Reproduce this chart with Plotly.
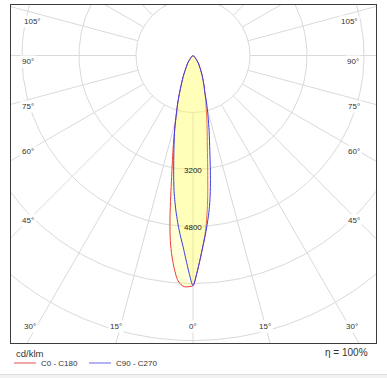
import numpy as np
import plotly.graph_objects as go

# ---------------- data (cd/klm) ----------------
gamma = [0, 1, 2, 3, 4, 5, 6, 7, 8, 9, 10, 12, 14, 16, 18, 20, 25, 30, 35, 40, 45, 50, 55, 60, 70, 80, 90]
c0 = [6460, 6117, 5721, 5342, 4971, 4494, 3952, 3394, 2936, 2574, 2305, 1881, 1535, 1294, 1053, 907, 598, 382, 258, 140, 70, 28, 0, 0, 0, 0, 0]
c180 = [6470, 6490, 6498, 6442, 6300, 6010, 5660, 5229, 4648, 3997, 3455, 2698, 2116, 1687, 1370, 1089, 648, 382, 258, 140, 70, 28, 0, 0, 0, 0, 0]
c90 = [6460, 6117, 5721, 5353, 5027, 4690, 4348, 3952, 3514, 3088, 2717, 2178, 1740, 1381, 1067, 907, 598, 382, 258, 140, 70, 28, 0, 0, 0, 0, 0]
c270 = [6460, 6117, 5721, 5364, 5075, 4777, 4472, 4154, 3829, 3467, 3121, 2560, 2116, 1687, 1370, 1089, 648, 382, 258, 140, 70, 28, 0, 0, 0, 0, 0]

ring_values = [1600, 3200, 4800, 6400, 8000, 9600]
ring_labels = ["3200", "4800"]
side_angle_labels = ["105°", "90°", "75°", "60°", "45°"]
bottom_angle_labels = ["30°", "15°", "0°", "15°", "30°"]
series_names = ["C0 - C180", "C90 - C270"]
unit_label = "cd/klm"
eta_label = "η = 100%"

# ---------------- geometry / style ----------------
W, H = 387, 378
L, R, T, B = 11, 376, 5, 343          # plot frame in pixels
CX, CY = 193, 55.5                    # polar centre in pixels
S = 57.0 / 1600.0                     # pixels per cd/klm
FONT = "Liberation Sans, Arial, sans-serif"
GRID = "#d9d9d9"
RED = "#ee3b3b"
BLUE = "#3b3bee"


def polar_xy(angles, values, side):
    a = np.radians(np.asarray(angles, dtype=float))
    v = np.asarray(values, dtype=float)
    return side * v * np.sin(a), -v * np.cos(a)


def closed_curve(right_vals, left_vals):
    # keep the first zero (the pole) only once on each side
    n = next(i for i, v in enumerate(right_vals) if v == 0) + 1
    m = next(i for i, v in enumerate(left_vals) if v == 0) + 1
    xr, yr = polar_xy(gamma[:n], right_vals[:n], 1)
    xl, yl = polar_xy(gamma[:m], left_vals[:m], -1)
    x = np.concatenate([xr[::-1], xl[1:]])
    y = np.concatenate([yr[::-1], yl[1:]])
    return x, y


def px(xpix):
    return (xpix - L) / (R - L)


def py(ypix):
    return (B - ypix) / (B - T)


fig = go.Figure()

# grid: circles
gx, gy = [], []
th = np.radians(np.arange(0, 361, 1))
for rv in ring_values:
    gx += list(rv * np.sin(th)) + [None]
    gy += list(-rv * np.cos(th)) + [None]
# grid: radial lines every 15 degrees, starting at first ring
for ang in range(0, 360, 15):
    a = np.radians(ang)
    gx += [ring_values[0] * np.sin(a), 14000 * np.sin(a), None]
    gy += [-ring_values[0] * np.cos(a), -14000 * np.cos(a), None]
fig.add_trace(go.Scatter(x=gx, y=gy, mode="lines", line=dict(color=GRID, width=1),
                         hoverinfo="skip", showlegend=False))

# curves
xa, ya = closed_curve(c0, c180)
fig.add_trace(go.Scatter(x=xa, y=ya, mode="lines", fill="toself",
                         fillcolor="rgba(255,255,90,0.24)",
                         line=dict(color=RED, width=1, shape="spline", smoothing=0.8),
                         name=series_names[0], showlegend=False))
xb, yb = closed_curve(c90, c270)
fig.add_trace(go.Scatter(x=xb, y=yb, mode="lines", fill="toself",
                         fillcolor="rgba(255,255,90,0.24)",
                         line=dict(color=BLUE, width=1, shape="spline", smoothing=0.8),
                         name=series_names[1], showlegend=False))

xrange = [(L - CX) / S, (R - CX) / S]
yrange = [-(B - CY) / S, (CY - T) / S]

annotations = []
# ring labels
for lab in ring_labels:
    annotations.append(dict(x=0, y=-float(lab), xref="x", yref="y", text=lab, showarrow=False,
                            font=dict(family=FONT, size=8, color="#222"), yshift=-1))

# side angle labels
side_y = [15, 55, 100, 151, 221]
left_x = [22, 20, 20, 20, 20]
right_x = [360, 361, 362, 362, 362]
for lab, yy, lx, rx in zip(side_angle_labels, side_y, left_x, right_x):
    for xx in (lx, rx):
        annotations.append(dict(x=px(xx), y=py(yy), xref="paper", yref="paper", text=lab,
                                showarrow=False, bgcolor="white", borderpad=1,
                                font=dict(family=FONT, size=8, color="#333")))
bottom_x = [22, 108, 193, 273, 360]
for lab, xx in zip(bottom_angle_labels, bottom_x):
    annotations.append(dict(x=px(xx), y=py(333), xref="paper", yref="paper", text=lab,
                            showarrow=False, bgcolor="white", borderpad=1,
                            font=dict(family=FONT, size=8, color="#333")))

# footer texts
annotations.append(dict(x=px(14), y=py(353), xref="paper", yref="paper", text=unit_label,
                        showarrow=False, xanchor="left", yanchor="middle",
                        font=dict(family=FONT, size=9.5, color="#333")))
annotations.append(dict(x=px(370), y=py(352), xref="paper", yref="paper", text=eta_label,
                        showarrow=False, xanchor="right", yanchor="middle",
                        font=dict(family=FONT, size=10, color="#333")))
annotations.append(dict(x=px(39), y=py(363.5), xref="paper", yref="paper", text=series_names[0],
                        showarrow=False, xanchor="left", yanchor="middle",
                        font=dict(family=FONT, size=8, color="#333")))
annotations.append(dict(x=px(114), y=py(363.5), xref="paper", yref="paper", text=series_names[1],
                        showarrow=False, xanchor="left", yanchor="middle",
                        font=dict(family=FONT, size=8, color="#333")))

shapes = [
    dict(type="line", xref="paper", yref="paper", x0=px(14), x1=px(36), y0=py(363), y1=py(363),
         line=dict(color="#f08a8a", width=1.5)),
    dict(type="line", xref="paper", yref="paper", x0=px(89), x1=px(111), y0=py(363), y1=py(363),
         line=dict(color="#9a9af0", width=1.5)),
    dict(type="rect", xref="paper", yref="paper", x0=px(-5), x1=px(395), y0=py(374.5), y1=py(382),
         fillcolor="#f2f2f2", line=dict(color="#dcdcdc", width=1)),
]

fig.update_layout(
    width=W, height=H,
    margin=dict(l=L, r=W - R, t=T, b=H - B, pad=0),
    paper_bgcolor="white", plot_bgcolor="white",
    showlegend=False,
    xaxis=dict(range=xrange, showgrid=False, zeroline=False, showticklabels=False, ticks="",
               showline=True, mirror=True, linecolor="#3c3c3c", linewidth=1, fixedrange=True),
    yaxis=dict(range=yrange, showgrid=False, zeroline=False, showticklabels=False, ticks="",
               showline=True, mirror=True, linecolor="#3c3c3c", linewidth=1, fixedrange=True),
    annotations=annotations,
    shapes=shapes,
)

fig.write_html("out.html", config={"displayModeBar": False},
               post_script="document.body.style.margin='0';document.body.style.overflow='hidden';")
